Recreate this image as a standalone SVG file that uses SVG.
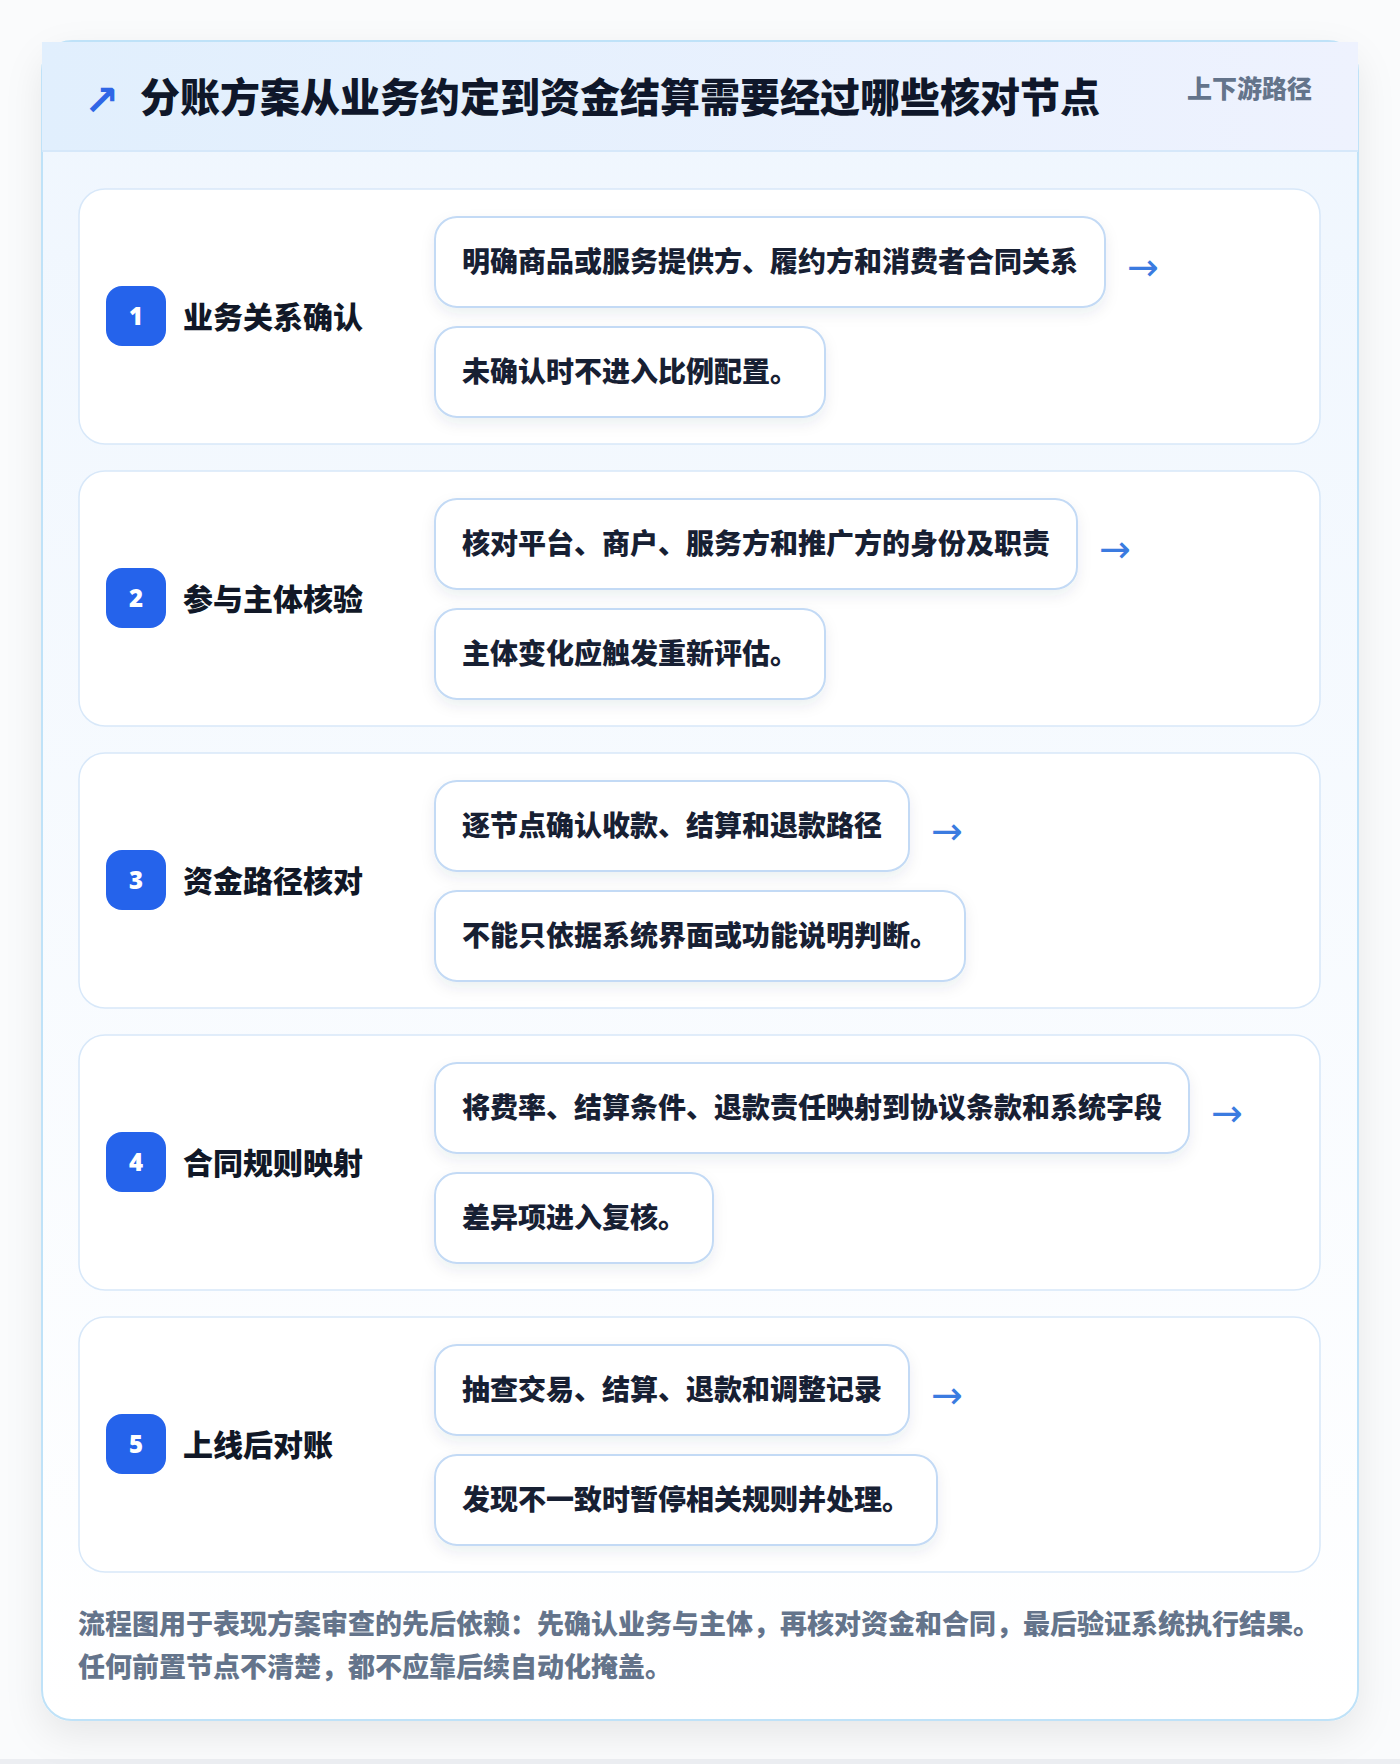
<svg xmlns="http://www.w3.org/2000/svg" width="1400" height="1764" viewBox="0 0 1400 1764">
<defs>
<linearGradient id="hdr" x1="0" y1="0" x2="1" y2="0"><stop offset="0" stop-color="#e1effd"/><stop offset="1" stop-color="#eef2fe"/></linearGradient>
<linearGradient id="body" x1="0" y1="0" x2="0" y2="1"><stop offset="0" stop-color="#eff6fe"/><stop offset="1" stop-color="#ffffff"/></linearGradient>
<filter id="cardShadow" x="-10%" y="-10%" width="120%" height="120%"><feDropShadow dx="0" dy="14" stdDeviation="18" flood-color="#0f172a" flood-opacity="0.08"/></filter>
<filter id="boxShadow" x="-10%" y="-30%" width="120%" height="160%"><feDropShadow dx="0" dy="6" stdDeviation="7" flood-color="#1e3a5f" flood-opacity="0.08"/></filter>
<style>
.t{font-family:"Noto Sans CJK SC","Noto Sans",sans-serif;font-weight:900}
.title{font-size:40px;fill:#0f172a}
.tag{font-size:25px;fill:#64748b}
.card{fill:#ffffff;stroke:#d8e8f9;stroke-width:1.5}
.badge{fill:#2563eb}
.num{font-size:24px;fill:#ffffff;font-family:"Noto Sans","DejaVu Sans",sans-serif;font-weight:900}
.st{font-size:30px;fill:#111827}
.box{fill:#ffffff;stroke:#c3daf5;stroke-width:2}
.bt{font-size:28px;fill:#172033}
.arr{font-size:38px;fill:#3b7be0;font-family:"DejaVu Sans",sans-serif;font-weight:400}
.foot{font-size:27px;fill:#64748b}
</style>
</defs>
<rect x="0" y="0" width="1400" height="1764" fill="#fafbfc"/>
<rect x="0" y="1759" width="1400" height="5" fill="#eceef2"/>
<g id="frame">
<rect x="42" y="41" width="1316" height="1679" rx="30" fill="url(#body)" stroke="#bfe2f8" stroke-width="2" filter="url(#cardShadow)"/>
<rect x="42" y="42" width="1316" height="109" fill="url(#hdr)"/>
<line x1="42" y1="151" x2="1358" y2="151" stroke="#d6e8fa" stroke-width="2"/>
</g>
<g id="header">
<text x="84" y="115" font-size="42" fill="#2f66e6" font-family="DejaVu Sans,sans-serif" font-weight="700">↗</text>
<text class="t title" x="140" y="112">分账方案从业务约定到资金结算需要经过哪些核对节点</text>
<text class="t tag" x="1187" y="98">上下游路径</text>
</g>
<g id="step1">
<rect class="card" x="79" y="189" width="1241" height="255" rx="26"/>
<rect class="badge" x="106" y="286" width="60" height="60" rx="16"/>
<text class="num" x="136" y="325" text-anchor="middle">1</text>
<text class="t st" x="183" y="328">业务关系确认</text>
<rect class="box" x="435" y="217" width="670" height="90" rx="22" filter="url(#boxShadow)"/>
<text class="t bt" x="462" y="272">明确商品或服务提供方、履约方和消费者合同关系</text>
<rect class="box" x="435" y="327" width="390" height="90" rx="22" filter="url(#boxShadow)"/>
<text class="t bt" x="462" y="382">未确认时不进入比例配置。</text>
<text class="arr" x="1127" y="280">→</text>
</g>
<g id="step2">
<rect class="card" x="79" y="471" width="1241" height="255" rx="26"/>
<rect class="badge" x="106" y="568" width="60" height="60" rx="16"/>
<text class="num" x="136" y="607" text-anchor="middle">2</text>
<text class="t st" x="183" y="610">参与主体核验</text>
<rect class="box" x="435" y="499" width="642" height="90" rx="22" filter="url(#boxShadow)"/>
<text class="t bt" x="462" y="554">核对平台、商户、服务方和推广方的身份及职责</text>
<rect class="box" x="435" y="609" width="390" height="90" rx="22" filter="url(#boxShadow)"/>
<text class="t bt" x="462" y="664">主体变化应触发重新评估。</text>
<text class="arr" x="1099" y="562">→</text>
</g>
<g id="step3">
<rect class="card" x="79" y="753" width="1241" height="255" rx="26"/>
<rect class="badge" x="106" y="850" width="60" height="60" rx="16"/>
<text class="num" x="136" y="889" text-anchor="middle">3</text>
<text class="t st" x="183" y="892">资金路径核对</text>
<rect class="box" x="435" y="781" width="474" height="90" rx="22" filter="url(#boxShadow)"/>
<text class="t bt" x="462" y="836">逐节点确认收款、结算和退款路径</text>
<rect class="box" x="435" y="891" width="530" height="90" rx="22" filter="url(#boxShadow)"/>
<text class="t bt" x="462" y="946">不能只依据系统界面或功能说明判断。</text>
<text class="arr" x="931" y="844">→</text>
</g>
<g id="step4">
<rect class="card" x="79" y="1035" width="1241" height="255" rx="26"/>
<rect class="badge" x="106" y="1132" width="60" height="60" rx="16"/>
<text class="num" x="136" y="1171" text-anchor="middle">4</text>
<text class="t st" x="183" y="1174">合同规则映射</text>
<rect class="box" x="435" y="1063" width="754" height="90" rx="22" filter="url(#boxShadow)"/>
<text class="t bt" x="462" y="1118">将费率、结算条件、退款责任映射到协议条款和系统字段</text>
<rect class="box" x="435" y="1173" width="278" height="90" rx="22" filter="url(#boxShadow)"/>
<text class="t bt" x="462" y="1228">差异项进入复核。</text>
<text class="arr" x="1211" y="1126">→</text>
</g>
<g id="step5">
<rect class="card" x="79" y="1317" width="1241" height="255" rx="26"/>
<rect class="badge" x="106" y="1414" width="60" height="60" rx="16"/>
<text class="num" x="136" y="1453" text-anchor="middle">5</text>
<text class="t st" x="183" y="1456">上线后对账</text>
<rect class="box" x="435" y="1345" width="474" height="90" rx="22" filter="url(#boxShadow)"/>
<text class="t bt" x="462" y="1400">抽查交易、结算、退款和调整记录</text>
<rect class="box" x="435" y="1455" width="502" height="90" rx="22" filter="url(#boxShadow)"/>
<text class="t bt" x="462" y="1510">发现不一致时暂停相关规则并处理。</text>
<text class="arr" x="931" y="1408">→</text>
</g>
<g id="connectors"></g>
<g id="footer">
<text class="t foot" x="78" y="1634">流程图用于表现方案审查的先后依赖：先确认业务与主体，再核对资金和合同，最后验证系统执行结果。</text>
<text class="t foot" x="78" y="1677">任何前置节点不清楚，都不应靠后续自动化掩盖。</text>
</g>
</svg>
